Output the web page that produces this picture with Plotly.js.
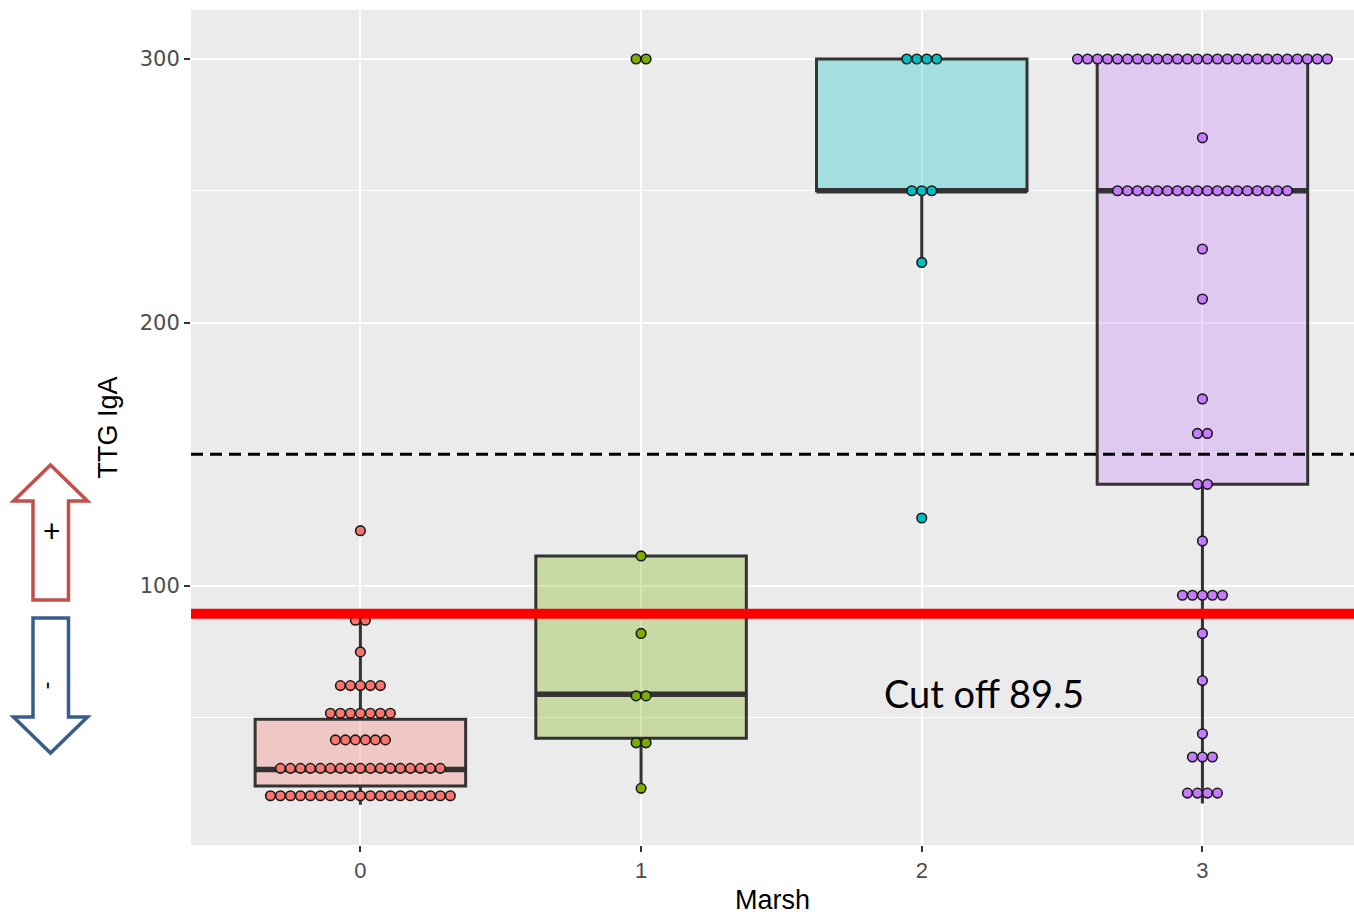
<!DOCTYPE html>
<html>
<head>
<meta charset="utf-8">
<script src="https://cdn.plot.ly/plotly-3.0.1.min.js"></script>
<style>html,body{margin:0;padding:0;background:#fff;}#chart{width:1354px;height:915px;}</style>
</head>
<body>
<div id="chart"></div>
<script>
// ---- data ----
const categories = ['0', '1', '2', '3'];

// box statistics per Marsh grade
const boxQ1 = [24.1, 42.2, 250, 138.6];
const boxMedian = [30.4, 58.9, 250, 250];
const boxQ3 = [49.4, 111.4, 300, 300];
const boxLower = [17, 23.2, 222.8, 17.5];
const boxUpper = [87, 111.4, 300, 300];

// dot-plot rows: value and number of stacked dots
const marsh0Values = [121, 87, 75, 62.2, 51.7, 41.6, 30.8, 20.4];
const marsh0Counts = [1, 2, 1, 5, 7, 6, 17, 19];
const marsh1Values = [300, 111.4, 82, 58.3, 40.5, 23.2];
const marsh1Counts = [2, 1, 1, 2, 2, 1];
const marsh2Values = [300, 250, 222.8, 125.8];
const marsh2Counts = [4, 3, 1, 1];
const marsh3Values = [300, 270.1, 250, 227.9, 208.9, 171, 157.9, 138.6, 117.1, 96.5, 82, 64.1, 43.9, 35.1, 21.4];
const marsh3Counts = [26, 1, 18, 1, 1, 1, 2, 2, 1, 5, 1, 1, 1, 3, 4];

const threshold = 150;   // dashed line
const cutoff = 89.5;     // red line
const cutoffLabel = 'Cut off 89.5';

// ---- styling ----
const groupColors = ['#F8766D', '#7CAE00', '#00BFC4', '#C77CFF'];
const groupFills = ['rgba(248,118,109,0.3)', 'rgba(124,174,0,0.3)', 'rgba(0,191,196,0.3)', 'rgba(199,124,255,0.3)'];
const boxWidth = 0.75;
const dotStep = 0.0356;

const W = 1354, H = 915;
const M = {l: 191, r: 0, t: 10, b: 70};
const px2x = p => (p - M.l) / (W - M.l - M.r);
const px2y = p => (H - M.b - p) / (H - M.t - M.b);

const groups = [
  [marsh0Values, marsh0Counts],
  [marsh1Values, marsh1Counts],
  [marsh2Values, marsh2Counts],
  [marsh3Values, marsh3Counts]
];

const traces = [];
// boxes
categories.forEach((c, i) => {
  traces.push({
    type: 'box', x: [i],
    q1: [boxQ1[i]], median: [boxMedian[i]], q3: [boxQ3[i]],
    lowerfence: [boxLower[i]], upperfence: [boxUpper[i]],
    width: boxWidth, whiskerwidth: 0, boxpoints: false,
    fillcolor: groupFills[i],
    line: {color: '#333333', width: 3},
    hoverinfo: 'skip', showlegend: false
  });
});
// thicker median lines
categories.forEach((c, i) => {
  traces.push({
    type: 'scatter', mode: 'lines',
    x: [i - boxWidth / 2, i + boxWidth / 2], y: [boxMedian[i], boxMedian[i]],
    line: {color: '#333333', width: 5.5},
    hoverinfo: 'skip', showlegend: false
  });
});
// dots
groups.forEach(([vals, counts], i) => {
  const xs = [], ys = [];
  vals.forEach((v, r) => {
    const n = counts[r];
    for (let k = 0; k < n; k++) {
      xs.push(i + (k - (n - 1) / 2) * dotStep);
      ys.push(v);
    }
  });
  traces.push({
    type: 'scatter', mode: 'markers', x: xs, y: ys,
    marker: {size: 9.6, color: groupColors[i], line: {color: '#1a1a1a', width: 1.6}},
    hoverinfo: 'skip', showlegend: false
  });
});

const upArrow = [[50.5,465],[87.5,501],[68.5,501],[68.5,600],[33,600],[33,501],[13.5,501]];
const downArrow = [[33,618],[68.5,618],[68.5,717],[87.5,717],[50.5,753],[13.5,717],[33,717]];
const toPath = pts => 'M' + pts.map(p => px2x(p[0]).toFixed(5) + ',' + px2y(p[1]).toFixed(5)).join(' L') + ' Z';

const layout = {
  width: W, height: H,
  margin: {l: M.l, r: M.r, t: M.t, b: M.b, pad: 0},
  paper_bgcolor: '#ffffff', plot_bgcolor: '#EBEBEB',
  showlegend: false, boxmode: 'overlay',
  font: {family: 'Liberation Sans, Arial, sans-serif'},
  xaxis: {
    range: [-0.6035, 3.54], tickmode: 'array', tickvals: [0, 1, 2, 3], ticktext: categories,
    showgrid: true, gridcolor: '#ffffff', gridwidth: 2, zeroline: false, showline: false,
    ticks: 'outside', ticklen: 6, tickwidth: 2, tickcolor: '#333333',
    tickfont: {family: 'Liberation Sans Narrow, Liberation Sans, sans-serif', size: 22, color: '#4D4D4D'},
    title: {text: 'Marsh', font: {family: 'Liberation Sans, Arial, sans-serif', size: 27, color: '#000000'}, standoff: 8},
    automargin: false, fixedrange: true
  },
  yaxis: {
    range: [1.71, 318.6], tick0: 0, dtick: 100,
    showgrid: true, gridcolor: '#ffffff', gridwidth: 2, zeroline: false, showline: false,
    minor: {tick0: 0, dtick: 50, showgrid: true, gridcolor: '#ffffff', gridwidth: 1, ticks: ''},
    ticks: 'outside', ticklen: 6, tickwidth: 2, tickcolor: '#333333',
    tickfont: {family: 'DejaVu Sans, sans-serif', size: 21, color: '#4D4D4D'},
    title: {text: 'TTG IgA', font: {family: 'Liberation Sans, Arial, sans-serif', size: 27, color: '#000000'}, standoff: 14},
    automargin: false, fixedrange: true
  },
  shapes: [
    {type: 'line', xref: 'paper', yref: 'y', x0: 0, x1: 1, y0: threshold, y1: threshold,
     line: {color: '#000000', width: 3, dash: '12px,7px'}, layer: 'above'},
    {type: 'line', xref: 'paper', yref: 'y', x0: 0, x1: 1, y0: cutoff, y1: cutoff,
     line: {color: '#FF0000', width: 10}, layer: 'above'},
    {type: 'path', xref: 'paper', yref: 'paper', path: toPath(upArrow),
     fillcolor: '#ffffff', line: {color: '#C0504D', width: 3.5}, layer: 'above'},
    {type: 'path', xref: 'paper', yref: 'paper', path: toPath(downArrow),
     fillcolor: '#ffffff', line: {color: '#385D8A', width: 3.5}, layer: 'above'}
  ],
  annotations: [
    {xref: 'paper', yref: 'paper', x: px2x(984), y: px2y(693), text: cutoffLabel, showarrow: false,
     xanchor: 'center', yanchor: 'middle', font: {family: 'Lato, sans-serif', size: 38, color: '#000000'}},
    {xref: 'paper', yref: 'paper', x: px2x(51.5), y: px2y(530.5), text: '+', showarrow: false,
     xanchor: 'center', yanchor: 'middle', font: {family: 'Lato, sans-serif', size: 30, color: '#000000'}},
    {xref: 'paper', yref: 'paper', x: px2x(50.7), y: px2y(685.7), text: '-', showarrow: false, textangle: 90,
     xanchor: 'center', yanchor: 'middle', font: {family: 'Lato, sans-serif', size: 24, color: '#000000'}}
  ]
};

Plotly.newPlot('chart', traces, layout, {displayModeBar: false, staticPlot: true});
</script>
</body>
</html>
